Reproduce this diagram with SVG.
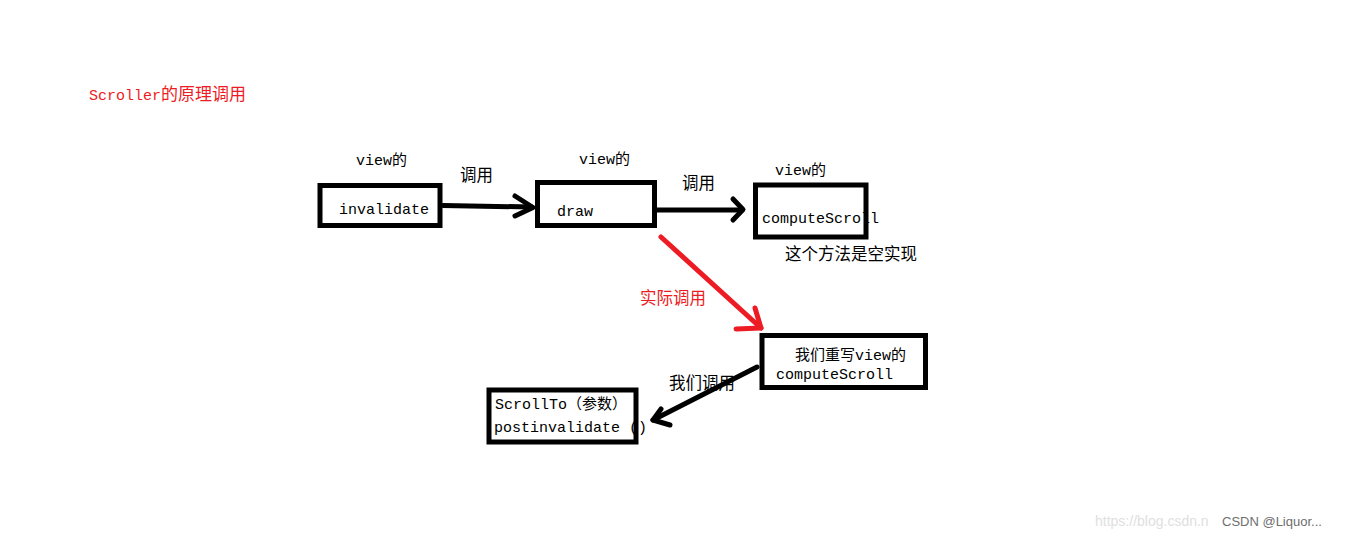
<svg xmlns="http://www.w3.org/2000/svg" width="1347" height="538" viewBox="0 0 1347 538">
<defs>
<style>
.t{font-family:"Liberation Mono","Noto Sans CJK SC",monospace;font-size:15px;fill:#000}
.c{font-family:"Noto Sans CJK SC",sans-serif;font-size:16.5px;fill:#000}
.red{fill:#ed1c24}
.box{fill:#fff;stroke:#000;stroke-width:5}
.ln{fill:none;stroke:#000;stroke-width:5;stroke-linecap:round;stroke-linejoin:round}
.rl{fill:none;stroke:#ed1c24;stroke-width:5;stroke-linecap:round;stroke-linejoin:round}
</style>
</defs>
<rect width="1347" height="538" fill="#fff"/>
<text class="t red" x="89" y="100">Scroller<tspan font-size="17">的原理调用</tspan></text>

<g id="invalidate">
<text class="t" x="356" y="165">view的</text>
<rect class="box" x="320" y="185.5" width="120" height="40"/>
<text class="t" x="339" y="214">invalidate</text>
</g>

<g id="draw">
<text class="t" x="579" y="164">view的</text>
<rect class="box" x="537.5" y="182.5" width="117" height="43"/>
<text class="t" x="557" y="216">draw</text>
</g>

<g id="computeScroll">
<text class="t" x="775" y="175">view的</text>
<rect class="box" x="755.5" y="185" width="110.5" height="52"/>
<text class="t" x="762" y="223">computeScroll</text>
<text class="c" x="785" y="260" font-size="17">这个方法是空实现</text>
</g>

<g id="override">
<rect class="box" x="762" y="335.5" width="163.5" height="52"/>
<text class="t" x="795" y="360">我们重写view的</text>
<text class="t" x="776" y="379">computeScroll</text>
</g>

<g id="scrollTo">
<rect class="box" x="489" y="390" width="147" height="52"/>
<text class="t" x="495" y="409">ScrollTo（参数）</text>
<text class="t" x="494" y="432">postinvalidate ()</text>
</g>

<g id="connectors">
<path class="ln" d="M443 205.5 L532 207"/>
<path class="ln" d="M515 196 L533 207.5 L515 216"/>
<text class="c" x="460" y="181">调用</text>

<path class="ln" d="M657 210 L742 210"/>
<path class="ln" d="M733 199 L743 209.5 L733 220"/>
<text class="c" x="682" y="189">调用</text>

<path class="rl" d="M661 237 L761 328"/>
<path class="rl" d="M755 308 L761 328 L736 329"/>
<text class="c red" x="640" y="304">实际调用</text>

<path class="ln" d="M757 367 L653 420"/>
<path class="ln" d="M661 409 L653 420 L670 425"/>
<text class="c" x="669" y="389">我们调用</text>
</g>

<text x="1095" y="526" font-family="Liberation Sans,sans-serif" font-size="14" fill="#e0e0e0">https://blog.csdn.n</text>
<text x="1222" y="526" font-family="Liberation Sans,sans-serif" font-size="13" fill="#6e6e6e">CSDN @Liquor...</text>
</svg>
